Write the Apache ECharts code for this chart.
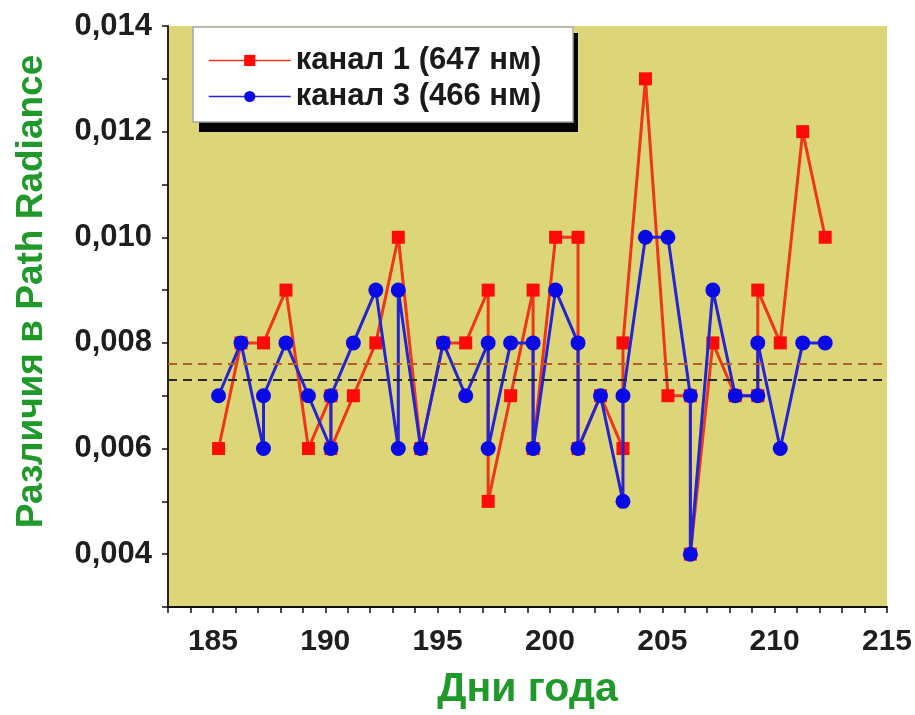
<!DOCTYPE html>
<html>
<head>
<meta charset="utf-8">
<script src="https://cdn.jsdelivr.net/npm/echarts@6/dist/echarts.min.js"></script>
<style>
  html, body { margin: 0; padding: 0; background: #ffffff; }
  #chart { width: 915px; height: 715px; }
</style>
</head>
<body>
<div id="chart"></div>
<script>
// Day of year (fractional) for each measurement; repeated days are several passes on that day
const channel1Days = [185.25, 186.25, 187.25, 188.25, 189.25, 190.25, 190.25, 191.25, 192.25, 193.25,
  194.25, 195.25, 196.25, 197.25, 197.25, 198.25, 199.25, 199.25, 200.25, 201.25,
  201.25, 202.25, 203.25, 203.25, 204.25, 205.25, 206.25, 206.25, 207.25, 208.25,
  209.25, 209.25, 210.25, 211.25, 212.25];
const channel1Values = [0.006, 0.008, 0.008, 0.009, 0.006, 0.007, 0.006, 0.007, 0.008, 0.010,
  0.006, 0.008, 0.008, 0.009, 0.005, 0.007, 0.009, 0.006, 0.010, 0.010,
  0.006, 0.007, 0.006, 0.008, 0.013, 0.007, 0.007, 0.004, 0.008, 0.007,
  0.007, 0.009, 0.008, 0.012, 0.010];

const channel3Days = [185.25, 186.25, 187.25, 187.25, 188.25, 189.25, 190.25, 190.25, 191.25, 192.25,
  193.25, 193.25, 194.25, 195.25, 196.25, 197.25, 197.25, 198.25, 199.25, 199.25,
  200.25, 201.25, 201.25, 202.25, 203.25, 203.25, 204.25, 205.25, 206.25, 206.25,
  207.25, 208.25, 209.25, 209.25, 210.25, 211.25, 212.25];
const channel3Values = [0.007, 0.008, 0.006, 0.007, 0.008, 0.007, 0.006, 0.007, 0.008, 0.009,
  0.006, 0.009, 0.006, 0.008, 0.007, 0.008, 0.006, 0.008, 0.008, 0.006,
  0.009, 0.008, 0.006, 0.007, 0.005, 0.007, 0.010, 0.010, 0.007, 0.004,
  0.009, 0.007, 0.007, 0.008, 0.006, 0.008, 0.008];

// Average levels of the two channels, drawn as dashed reference lines
const meanLevels = [0.0076, 0.0073];

// Axis ranges
const dayRange = [183, 215];
const valueRange = [0.003, 0.014];

const seriesNames = ['канал 1 (647 нм)', 'канал 3 (466 нм)'];
const xAxisTitle = 'Дни года';
const yAxisTitle = 'Различия в Path Radiance';

const pairs = (xs, ys) => xs.map((x, i) => [x, ys[i]]);
const levelLine = v => [[{ coord: [dayRange[0], v] }, { coord: [dayRange[1], v] }]];

const FONT = '"Liberation Sans", Arial, sans-serif';
const GREEN = '#1f9a2a';

const chart = echarts.init(document.getElementById('chart'), null, { renderer: 'canvas' });

chart.setOption({
  animation: false,
  backgroundColor: '#ffffff',
  grid: { left: 168, top: 26, right: 28, bottom: 106, show: true, backgroundColor: '#dcd679', borderWidth: 0 },
  // legend frame with a dark drop shadow
  graphic: [
    { type: 'rect', z: 10, shape: { x: 199, y: 33, width: 379, height: 99 }, style: { fill: '#050505' } },
    { type: 'rect', z: 11, shape: { x: 193, y: 27, width: 380, height: 95 },
      style: { fill: '#ffffff', stroke: '#a8a8a8', lineWidth: 1.5 } }
  ],
  legend: {
    left: 208, top: 45, z: 20,
    orient: 'vertical',
    itemGap: 5,
    itemWidth: 82, itemHeight: 14,
    padding: 0,
    lineStyle: { width: 1.5 },
    textStyle: { fontFamily: FONT, fontWeight: 'bold', fontSize: 31, color: '#1a1a1a' },
    data: seriesNames
  },
  xAxis: {
    type: 'value', min: dayRange[0], max: dayRange[1], interval: 1,
    name: xAxisTitle, nameLocation: 'middle', nameGap: 62,
    nameTextStyle: { fontFamily: FONT, fontWeight: 'bold', fontSize: 41, color: GREEN },
    axisLine: { show: true, onZero: false, lineStyle: { color: '#111111', width: 2 } },
    axisTick: { show: true, inside: false, length: 6, lineStyle: { color: '#111111', width: 1.5 } },
    axisLabel: {
      margin: 20, fontFamily: FONT, fontWeight: 'bold', fontSize: 30, color: '#1e1e1e',
      formatter: v => (Math.round(v) % 5 === 0 ? String(Math.round(v)) : '')
    },
    splitLine: { show: false }
  },
  yAxis: {
    type: 'value', min: valueRange[0], max: valueRange[1], interval: 0.001,
    name: yAxisTitle, nameLocation: 'middle', nameGap: 118, nameRotate: 90,
    nameTextStyle: { fontFamily: FONT, fontWeight: 'bold', fontSize: 37, color: GREEN, padding: [0, 0, 0, 50] },
    axisLine: { show: true, onZero: false, lineStyle: { color: '#2a2410', width: 2 } },
    axisTick: { show: true, inside: false, length: 6, lineStyle: { color: '#111111', width: 1.5 } },
    axisLabel: {
      margin: 16, fontFamily: FONT, fontWeight: 'bold', fontSize: 31, color: '#1e1e1e',
      formatter: v => {
        const k = Math.round(v * 1000);
        return k % 2 === 0 ? (k / 1000).toFixed(3).replace('.', ',') : '';
      }
    },
    splitLine: { show: false }
  },
  series: [
    {
      name: seriesNames[0], type: 'line',
      data: pairs(channel1Days, channel1Values),
      symbol: 'rect', symbolSize: 13,
      itemStyle: { color: '#ff0a0a' },
      lineStyle: { color: '#f0361a', width: 3 },
      markLine: {
        silent: true, symbol: 'none', label: { show: false },
        lineStyle: { color: '#b0602a', type: [9, 6], width: 1.8 },
        data: levelLine(meanLevels[0])
      },
      z: 2
    },
    {
      name: seriesNames[1], type: 'line',
      data: pairs(channel3Days, channel3Values),
      symbol: 'circle', symbolSize: 15,
      itemStyle: { color: '#0a0ae6' },
      lineStyle: { color: '#2424d4', width: 3 },
      markLine: {
        silent: true, symbol: 'none', label: { show: false },
        lineStyle: { color: '#262636', type: [9, 6], width: 1.8 },
        data: levelLine(meanLevels[1])
      },
      z: 3
    }
  ]
});
</script>
</body>
</html>
